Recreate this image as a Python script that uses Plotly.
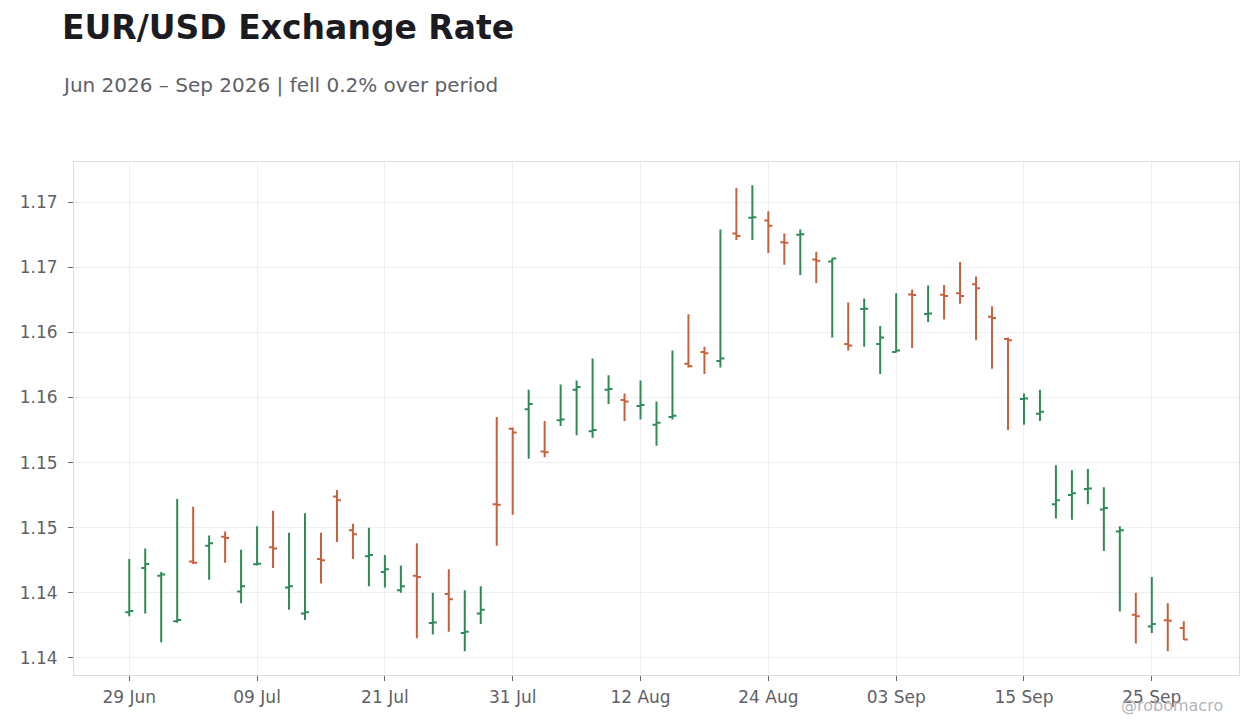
import pandas as pd
import plotly.graph_objects as go

# daily EUR/USD bars, business days 29 Jun - 29 Sep 2026
dates = pd.bdate_range("2026-06-29", "2026-09-29")

open_ = [1.1385, 1.1419, 1.1413, 1.1378, 1.1424, 1.1436, 1.1443, 1.1401, 1.14218, 1.1435,
         1.1404, 1.1384, 1.1426, 1.1474, 1.1448, 1.1428, 1.1416, 1.1402, 1.1413, 1.13768,
         1.1399, 1.1369, 1.1384, 1.1468, 1.1526, 1.1541, 1.15085, 1.15326, 1.1556, 1.1524,
         1.1556, 1.1548, 1.15435, 1.1529, 1.1535, 1.1576, 1.1585, 1.1578, 1.1676, 1.1688,
         1.1686, 1.16692, 1.1675, 1.1656, 1.16545, 1.1591, 1.1618, 1.1591, 1.1585, 1.16292,
         1.16142, 1.1629, 1.1630, 1.1637, 1.1612, 1.1595, 1.15488, 1.15375, 1.1468, 1.1475,
         1.14796, 1.1464, 1.1447, 1.1383, 1.1374, 1.13788, 1.1373]
high = [1.1426, 1.1434, 1.1416, 1.1472, 1.1466, 1.1444, 1.1447, 1.1433, 1.1451, 1.1463,
        1.1446, 1.1461, 1.1446, 1.1479, 1.1453, 1.1450, 1.1429, 1.1421, 1.1438, 1.1400,
        1.1418, 1.1402, 1.1405, 1.1535, 1.1527, 1.1556, 1.1532, 1.1560, 1.1563, 1.1580,
        1.1567, 1.1553, 1.1563, 1.1547, 1.1586, 1.1614, 1.1589, 1.1679, 1.1711, 1.1713,
        1.1693, 1.1676, 1.1679, 1.1662, 1.1657, 1.1623, 1.1626, 1.1605, 1.1630, 1.1633,
        1.1636, 1.16365, 1.1654, 1.1643, 1.1620, 1.1596, 1.1553, 1.1556, 1.1498, 1.1494,
        1.1495, 1.1481, 1.1451, 1.1400, 1.1412, 1.1392, 1.1378]
low = [1.1382, 1.1384, 1.1362, 1.1377, 1.1422, 1.1410, 1.1423, 1.1392, 1.1421, 1.1419,
       1.1387, 1.1379, 1.1407, 1.1439, 1.1426, 1.1405, 1.1404, 1.1400, 1.1365, 1.1368,
       1.1370, 1.1355, 1.1376, 1.1436, 1.1460, 1.1503, 1.1504, 1.1528, 1.1521, 1.1519,
       1.1545, 1.1532, 1.1533, 1.1513, 1.1533, 1.1573, 1.1568, 1.1573, 1.1671, 1.1671,
       1.1661, 1.1652, 1.1644, 1.1638, 1.1596, 1.1586, 1.1589, 1.1568, 1.15845, 1.1588,
       1.1608, 1.1610, 1.1622, 1.1594, 1.1572, 1.1525, 1.1529, 1.1532, 1.1457, 1.1456,
       1.1468, 1.1432, 1.13855, 1.1361, 1.1369, 1.1355, 1.13638]
close = [1.1386, 1.1422, 1.1414, 1.1379, 1.1423, 1.1438, 1.1442, 1.1405, 1.14222, 1.1434,
         1.1405, 1.1385, 1.1425, 1.1471, 1.1445, 1.1429, 1.1418, 1.1405, 1.1412, 1.13772,
         1.1395, 1.1370, 1.1387, 1.14675, 1.1523, 1.1545, 1.1508, 1.1533, 1.1558, 1.1525,
         1.15565, 1.1547, 1.15443, 1.15305, 1.1536, 1.1574, 1.1584, 1.1580, 1.1674, 1.16884,
         1.1682, 1.16688, 1.16754, 1.1655, 1.16568, 1.1590, 1.16182, 1.1596, 1.1586, 1.16288,
         1.16146, 1.1628, 1.1628, 1.1634, 1.1611, 1.1594, 1.15492, 1.1539, 1.1471, 1.14765,
         1.14800, 1.1465, 1.1448, 1.1382, 1.1376, 1.13784, 1.1364]

x_ticks = ["2026-06-29", "2026-07-09", "2026-07-21", "2026-07-31", "2026-08-12",
           "2026-08-24", "2026-09-03", "2026-09-15", "2026-09-25"]
y_ticks = [1.135, 1.140, 1.145, 1.150, 1.155, 1.160, 1.165, 1.170]
y_labels = ["1.14", "1.14", "1.15", "1.15", "1.16", "1.16", "1.17", "1.17"]

GREEN = "#2e8b57"
RED = "#c8603c"
FONT = "DejaVu Sans"

fig = go.Figure(go.Ohlc(
    x=dates, open=open_, high=high, low=low, close=close,
    increasing=dict(line=dict(color=GREEN, width=2)),
    decreasing=dict(line=dict(color=RED, width=2)),
    tickwidth=0.25,
    showlegend=False,
))

axis_style = dict(
    showline=True, mirror=True, linecolor="#dcdcdc", linewidth=1,
    showgrid=True, gridcolor="#efefef", gridwidth=1,
    ticks="outside", ticklen=5, tickcolor="#666",
    tickfont=dict(family=FONT, size=17, color="#5f6068"),
    zeroline=False,
)

# page body has an 8px margin, so the figure is 16px smaller than the window
fig.update_layout(
    width=1244, height=712,
    paper_bgcolor="white", plot_bgcolor="white",
    margin=dict(l=66, r=13, t=154, b=45),
    font=dict(family=FONT),
    title=dict(
        text="<b>EUR/USD Exchange Rate</b>",
        font=dict(family=FONT, size=33, color="#1b1b22"),
        xref="container", x=0.0434, xanchor="left",
        yref="container", y=0.972, yanchor="middle",
    ),
    xaxis=dict(
        axis_style, type="date",
        range=["2026-06-23 13:00", "2026-10-02 11:00"],
        rangebreaks=[dict(bounds=["sat", "mon"])],
        tickvals=x_ticks, tickformat="%d %b",
        ticklabelstandoff=2,
        rangeslider=dict(visible=False),
    ),
    yaxis=dict(
        axis_style,
        range=[1.13368, 1.17309],
        tickvals=y_ticks, ticktext=y_labels,
        ticklabelstandoff=7,
    ),
    annotations=[
        dict(text="Jun 2026 \u2013 Sep 2026 | fell 0.2% over period",
             xref="paper", yref="paper", x=-0.012, y=1.150,
             xanchor="left", yanchor="middle", showarrow=False,
             font=dict(family=FONT, size=20, color="#5f6068")),
        dict(text="@robomacro",
             xref="paper", yref="paper", x=0.988, y=-0.0585,
             xanchor="right", yanchor="middle", showarrow=False,
             font=dict(family=FONT, size=16, color="#b4b4bc")),
    ],
)

fig.write_html("out.html")
